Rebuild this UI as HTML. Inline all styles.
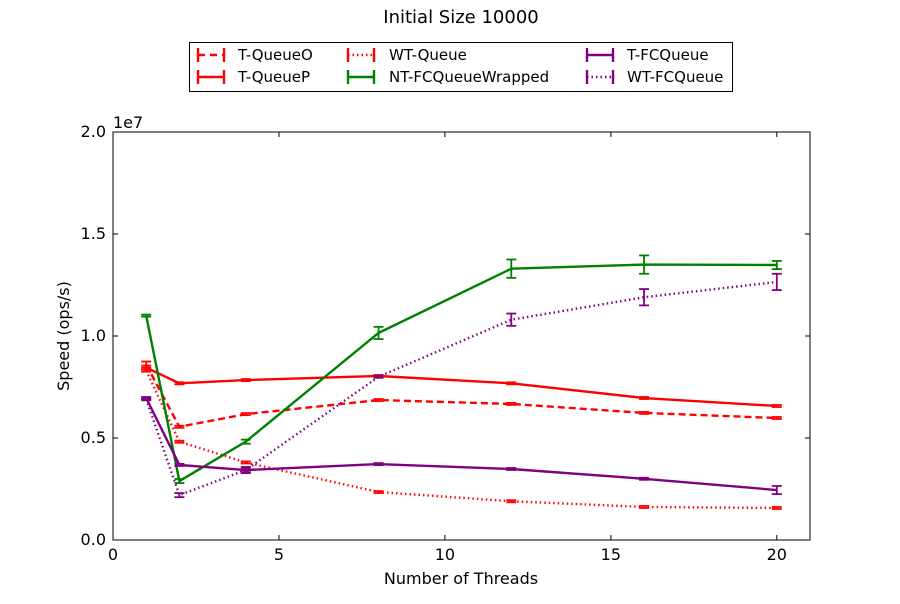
<!DOCTYPE html>
<html><head><meta charset="utf-8"><style>
body{margin:0;background:#fff;font-family:"DejaVu Sans","Liberation Sans",sans-serif}
</style></head><body>
<svg id="chart" width="900" height="600" xmlns="http://www.w3.org/2000/svg" font-family="DejaVu Sans, Liberation Sans, sans-serif"></svg>
<script>
const xs=[1,2,4,8,12,16,20];
const names=["T-QueueO","T-QueueP","WT-Queue","NT-FCQueueWrapped","T-FCQueue","WT-FCQueue"];
const tQueueO=[8.6e6,5.55e6,6.17e6,6.86e6,6.67e6,6.23e6,5.98e6];
const tQueueP=[8.45e6,7.68e6,7.84e6,8.04e6,7.68e6,6.96e6,6.57e6];
const wtQueue=[8.3e6,4.82e6,3.8e6,2.35e6,1.9e6,1.62e6,1.57e6];
const ntFC=[11.0e6,2.89e6,4.82e6,10.15e6,13.3e6,13.5e6,13.48e6];
const tFC=[6.96e6,3.68e6,3.43e6,3.72e6,3.48e6,3.0e6,2.45e6];
const wtFC=[6.9e6,2.2e6,3.43e6,8.0e6,10.8e6,11.9e6,12.65e6];
const errO=[0.15e6,0.05e6,0.05e6,0.05e6,0.05e6,0.05e6,0.05e6];
const errP=[0.1e6,0.05e6,0.05e6,0.05e6,0.05e6,0.05e6,0.05e6];
const errW=[0.05e6,0.05e6,0.05e6,0.05e6,0.05e6,0.05e6,0.05e6];
const errN=[0.05e6,0.1e6,0.1e6,0.3e6,0.45e6,0.45e6,0.2e6];
const errT=[0.05e6,0.05e6,0.15e6,0.05e6,0.05e6,0.05e6,0.2e6];
const errWF=[0.05e6,0.1e6,0.1e6,0.05e6,0.3e6,0.4e6,0.4e6];
const xTicks=[0,5,10,15,20];
const yTicks=[0,0.5e7,1.0e7,1.5e7,2.0e7];
const yTickLabels=["0.0","0.5","1.0","1.5","2.0"];
const X0=113,X1=810,Y0=540,Y1=132;
const sx=v=>X0+(v/21)*(X1-X0);
const sy=v=>Y0-(v/2e7)*(Y0-Y1);
const svg=document.getElementById('chart');
const NS="http://www.w3.org/2000/svg";
function mk(t,a,p){const e=document.createElementNS(NS,t);for(const k in a)e.setAttribute(k,a[k]);(p||svg).appendChild(e);return e;}
const series=[
 {d:tQueueO,e:errO,c:"#ff0000",dash:"7,4",n:"t-queueo"},
 {d:tQueueP,e:errP,c:"#ff0000",dash:"",n:"t-queuep"},
 {d:wtQueue,e:errW,c:"#ff0000",dash:"1.5,3",n:"wt-queue"},
 {d:ntFC,e:errN,c:"#008000",dash:"",n:"nt-fcqueuewrapped"},
 {d:tFC,e:errT,c:"#800080",dash:"",n:"t-fcqueue"},
 {d:wtFC,e:errWF,c:"#800080",dash:"1.5,3",n:"wt-fcqueue"}];
series.forEach(s=>{
 const g=mk('g',{});
 
 
 const pts=xs.map((x,i)=>sx(x)+','+sy(s.d[i])).join(' ');
 mk('polyline',{points:pts,fill:'none',stroke:s.c,'stroke-width':2.4,'stroke-dasharray':s.dash},g);
 xs.forEach((x,i)=>{
  const cx=sx(x),a=sy(s.d[i]+s.e[i]),b=sy(s.d[i]-s.e[i]);
  mk('line',{x1:cx,x2:cx,y1:a,y2:b,stroke:s.c,'stroke-width':1.8},g);
  mk('line',{x1:cx-5,x2:cx+5,y1:a,y2:a,stroke:s.c,'stroke-width':1.8},g);
  mk('line',{x1:cx-5,x2:cx+5,y1:b,y2:b,stroke:s.c,'stroke-width':1.8},g);
 });
});
const frame=mk('rect',{x:X0,y:Y1,width:X1-X0,height:Y0-Y1,fill:'none',stroke:'#000','stroke-width':1});


xTicks.forEach(t=>{
 const x=sx(t);
 mk('line',{x1:x,x2:x,y1:Y0,y2:Y0-5,stroke:'#000'});
 mk('line',{x1:x,x2:x,y1:Y1,y2:Y1+5,stroke:'#000'});
 const tx=mk('text',{x:x,y:Y0+20,'text-anchor':'middle','font-size':16});
 tx.textContent=t;
 
 
});
yTicks.forEach((t,i)=>{
 const y=sy(t);
 mk('line',{x1:X0,x2:X0+5,y1:y,y2:y,stroke:'#000'});
 mk('line',{x1:X1,x2:X1-5,y1:y,y2:y,stroke:'#000'});
 const tx=mk('text',{x:X0-7,y:y+5,'text-anchor':'end','font-size':16});
 tx.textContent=yTickLabels[i];
 
 
});
</script>
<svg style="position:absolute;left:0;top:0" width="900" height="600" font-family="DejaVu Sans, Liberation Sans, sans-serif">
<text x="461" y="23" text-anchor="middle" font-size="18">Initial Size 10000</text>
<text x="113" y="128" font-size="16">1e7</text>
<text x="461" y="584" text-anchor="middle" font-size="16">Number of Threads</text>
<text transform="translate(69,336) rotate(-90)" text-anchor="middle" font-size="16">Speed (ops/s)</text>
<g font-size="15">
<rect x="189.5" y="42.5" width="543" height="49" fill="#fff" stroke="#000"/>
<g stroke="#f00" stroke-width="2.4"><line x1="198" x2="224" y1="55" y2="55" stroke-dasharray="7,5"/><line x1="198" x2="198" y1="48" y2="62"/><line x1="224" x2="224" y1="48" y2="62"/></g>
<text x="238" y="60">T-QueueO</text>
<g stroke="#f00" stroke-width="2.4"><line x1="198" x2="224" y1="77" y2="77"/><line x1="198" x2="198" y1="70" y2="84"/><line x1="224" x2="224" y1="70" y2="84"/></g>
<text x="238" y="82">T-QueueP</text>
<g stroke="#f00" stroke-width="2.4"><line x1="348" x2="374" y1="55" y2="55" stroke-dasharray="1.5,3"/><line x1="348" x2="348" y1="48" y2="62"/><line x1="374" x2="374" y1="48" y2="62"/></g>
<text x="389" y="60">WT-Queue</text>
<g stroke="#008000" stroke-width="2.4"><line x1="348" x2="374" y1="77" y2="77"/><line x1="348" x2="348" y1="70" y2="84"/><line x1="374" x2="374" y1="70" y2="84"/></g>
<text x="389" y="82">NT-FCQueueWrapped</text>
<g stroke="#800080" stroke-width="2.4"><line x1="587" x2="613" y1="55" y2="55"/><line x1="587" x2="587" y1="48" y2="62"/><line x1="613" x2="613" y1="48" y2="62"/></g>
<text x="627" y="60">T-FCQueue</text>
<g stroke="#800080" stroke-width="2.4"><line x1="587" x2="613" y1="77" y2="77" stroke-dasharray="1.5,3"/><line x1="587" x2="587" y1="70" y2="84"/><line x1="613" x2="613" y1="70" y2="84"/></g>
<text x="627" y="82">WT-FCQueue</text>
</g>
</svg>
</body></html>
